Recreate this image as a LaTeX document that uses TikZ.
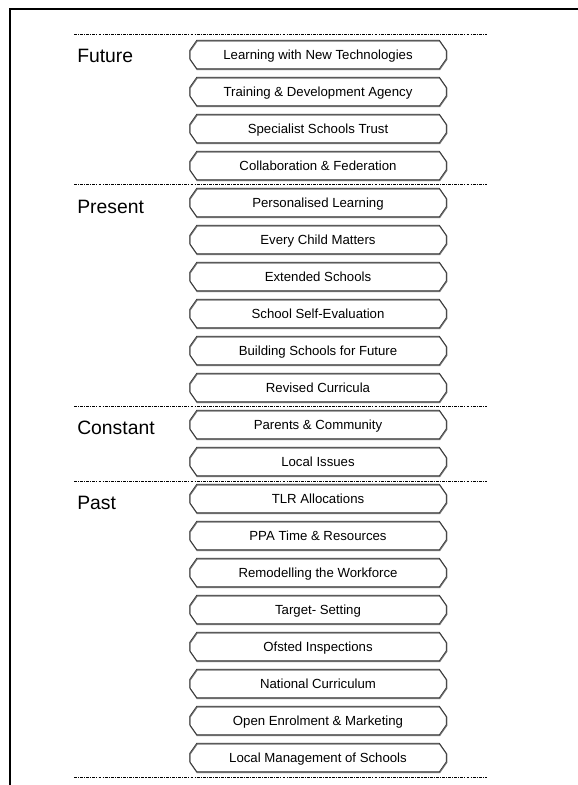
\documentclass[tikz,border=0pt]{standalone}
\usepackage{fontspec}
\setmainfont{Liberation Sans}
\usepackage{tikz}
\usetikzlibrary{positioning}

\tikzset{
  item/.style={minimum width=192pt, minimum height=21pt, inner sep=0pt,
    text height=9pt, text depth=0.8pt, font=\fontsize{9.9}{11}\selectfont},
  boxline/.style={line width=0.5pt, black!80,
    preaction={draw, black!55, line width=0.9pt,
      transform canvas={shift={(0.3pt,-0.6pt)}}}},
  period/.style={anchor=base west, inner sep=0pt, font=\fontsize{14.5}{16}\selectfont},
  divider/.style={line width=0.6pt, dash pattern=on 2.2pt off 0.8pt on 0.8pt off 0.8pt}
}

\begin{document}
\begin{tikzpicture}[x=0.75pt, y=-0.75pt]
\useasboundingbox (0,0) rectangle (578,785);
%draw page frame
\draw [line width=1.5pt] (9.7,785) -- (9.7,9) -- (578,9);
%draw dividers
\foreach \y in {34, 184, 406, 481, 777}{
   \draw [divider] (74,\y) -- (487,\y);
}
%draw period names
\node [period] (future) at (77,62) {Future};
\node [period] (present) at (77,213) {Present};
\node [period] (constant) at (77,434) {Constant};
\node [period] (past) at (77,509) {Past};
% draw initiatives
\foreach \t [count=\i from 0] in {Learning with New Technologies,
  Training \& Development Agency, Specialist Schools Trust,
  Collaboration \& Federation, Personalised Learning, Every Child Matters,
  Extended Schools, School Self-Evaluation, Building Schools for Future,
  Revised Curricula, Parents \& Community, Local Issues, TLR Allocations,
  PPA Time \& Resources, Remodelling the Workforce, Target- Setting,
  Ofsted Inspections, National Curriculum, Open Enrolment \& Marketing,
  Local Management of Schools}{
   \node [item] (box\i) at (318,{54.5+37*\i}) {\t};
   \draw [boxline] ([xshift=5.25pt]box\i.north west) -- ([xshift=-5.25pt]box\i.north east)
      -- ([yshift=-7.5pt]box\i.north east) -- ([yshift=7.5pt]box\i.south east)
      -- ([xshift=-5.25pt]box\i.south east) -- ([xshift=5.25pt]box\i.south west)
      -- ([yshift=7.5pt]box\i.south west) -- ([yshift=-7.5pt]box\i.north west) -- cycle;
}
\end{tikzpicture}
\end{document}
